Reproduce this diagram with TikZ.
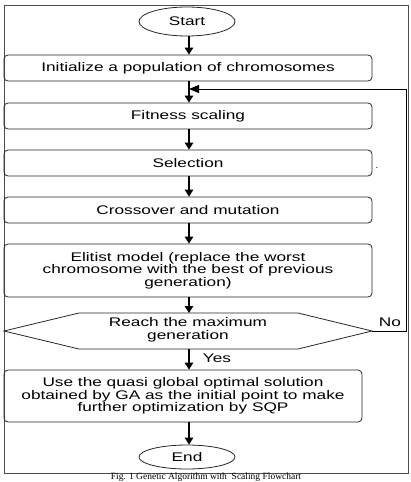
\documentclass[tikz,border=0pt]{standalone}
\usepackage{fontspec}
\setmainfont[FakeStretch=1.38]{Liberation Sans}
\newfontfamily\capfont{Liberation Serif}
\usetikzlibrary{arrows.meta,shapes.geometric}
\tikzset{
  box/.style={draw=black!85,line width=0.8pt,rounded corners=4pt,inner sep=0pt,align=center,
    font=\fontsize{12.5}{12.5}\selectfont},
  term/.style={draw=black!85,line width=0.8pt,ellipse,inner sep=0pt,font=\fontsize{12.5}{12.5}\selectfont},
  lbl/.style={inner sep=0pt,font=\fontsize{12.5}{12.5}\selectfont},
  arr/.style={line width=1.3pt,-{Triangle[width=8.5pt,length=7pt]}},
  fb/.style={line width=1pt},
  frame/.style={draw=black!70,line width=0.8pt}
}
\begin{document}
\begin{tikzpicture}[x=1pt,y=-1pt]
\useasboundingbox (0,0) rectangle (411,482);
\draw[frame] (4,5) rectangle (408,473);
\node[term,minimum width=96pt,minimum height=29pt] (start) at (187,21.5) {Start};
\node[box,minimum width=368pt,minimum height=26pt] (init) at (188,68) {Initialize a population of chromosomes};
\node[box,minimum width=368pt,minimum height=26pt] (fit) at (188,116) {Fitness scaling};
\node[box,minimum width=368pt,minimum height=26pt] (sel) at (188,163) {Selection};
\node[lbl,font=\fontsize{8}{8}\selectfont] (dot) at (377,168) {.};
\node[box,minimum width=368pt,minimum height=26pt] (cross) at (188,210) {Crossover and mutation};
\node[box,minimum width=368pt,minimum height=53pt] (elit) at (188,270.5) {Elitist model (replace the worst\\chromosome with the best of previous\\generation)};
\coordinate (dl) at (4,331);
\coordinate (dtl) at (79,313);
\coordinate (dtr) at (298,313);
\coordinate (dr) at (372,331);
\coordinate (dbr) at (298,349);
\coordinate (dbl) at (79,349);
\draw[line width=0.8pt,draw=black!85] (dl) -- (dtl) -- (dtr) -- (dr) -- (dbr) -- (dbl) -- cycle;
\node[lbl,align=center] (dec) at (188,330) {Reach the maximum\\[0.5pt]generation};
\coordinate (dtop) at (189,313);
\coordinate (dbot) at (189,349);
\node[box,minimum width=358pt,minimum height=52pt] (final) at (183,396) {Use the quasi global optimal solution\\obtained by GA as the initial point to make\\further optimization by SQP};
\node[term,minimum width=96pt,minimum height=24pt] (end) at (187,457) {End};
\node[lbl] (no) at (390,322) {No};
\node[lbl] (yes) at (217,358) {Yes};
\coordinate (c1) at (406,331);
\coordinate (c2) at (406,89);
\coordinate (c3) at (189,89);
\draw[arr] (start.south -| 189,0) -- (init.north -| 189,0);
\draw[arr] (init.south -| 189,0) -- (fit.north -| 189,0);
\draw[arr] (fit.south -| 189,0) -- (sel.north -| 189,0);
\draw[arr] (sel.south -| 189,0) -- (cross.north -| 189,0);
\draw[arr] (cross.south -| 189,0) -- (elit.north -| 189,0);
\draw[arr] (elit.south -| 189,0) -- (dtop);
\draw[arr] (dbot) -- (final.north -| 189,0);
\draw[arr] (final.south -| 189,0) -- (end.north -| 189,0);
\draw[fb,-{Triangle[width=8pt,length=10pt]}] (dr) -- (c1) -- (c2) -- (c3);
\node[inner sep=0pt,anchor=base,font=\capfont\fontsize{9.5}{9.5}\selectfont] (cap) at (206,479.5) {Fig. 1 Genetic Algorithm with\ \ Scaling Flowchart};
\end{tikzpicture}
\end{document}
